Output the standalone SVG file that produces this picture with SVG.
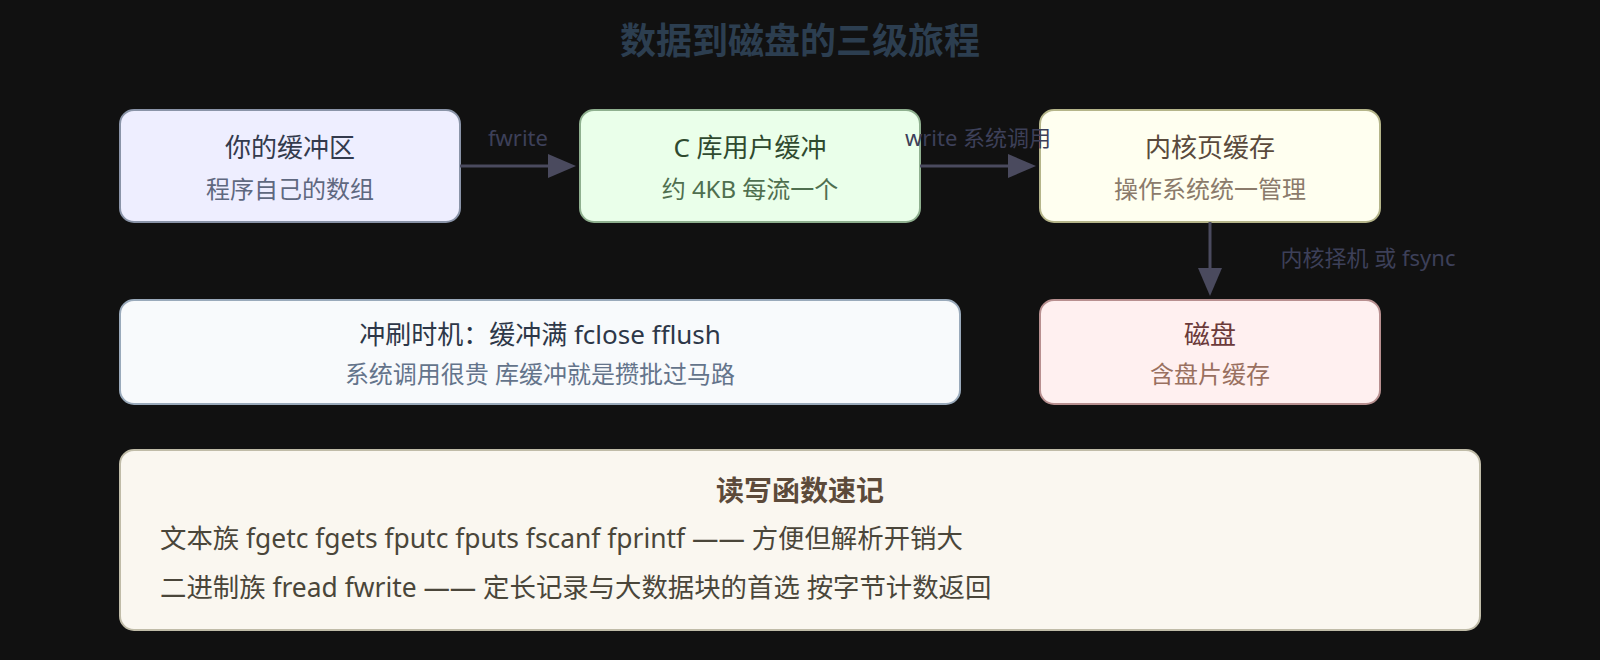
<svg xmlns="http://www.w3.org/2000/svg" width="1600" height="660" viewBox="0 0 1600 660">
  <defs>
    <style>
      text { font-family: "Noto Sans", "Noto Sans CJK SC", "Liberation Sans", sans-serif; }
      .title { font-size: 36px; font-weight: 700; fill: #2c3e50; }
      .nt { font-size: 26px; text-anchor: middle; }
      .ns { font-size: 24px; text-anchor: middle; }
      .el { font-size: 22px; fill: #3d4059; }
      .box { stroke-width: 2; }
      .edge { fill: none; stroke: #4a4a5e; stroke-width: 3; }
      .bh { font-size: 28px; font-weight: 700; fill: #5c4a3a; text-anchor: middle; }
      .bl { font-size: 26.4px; fill: #4a463a; }
    </style>
    <marker id="arr" markerUnits="userSpaceOnUse" markerWidth="30" markerHeight="24" refX="2" refY="12" orient="auto">
      <path d="M0,0 L28,12 L0,24 Z" fill="#4a4a5e"/>
    </marker>
  </defs>
  <rect x="0" y="0" width="1600" height="660" fill="#111111"/>
  <text class="title" x="800" y="54" text-anchor="middle">数据到磁盘的三级旅程</text>

  <g id="user-buffer">
    <rect class="box" x="120" y="110" width="340" height="112" rx="14" fill="#eeeeff" stroke="#8a94a8"/>
    <text class="nt" x="290" y="157" fill="#333a4d">你的缓冲区</text>
    <text class="ns" x="290" y="198" fill="#5f6880">程序自己的数组</text>
  </g>

  <g id="clib-buffer">
    <rect class="box" x="580" y="110" width="340" height="112" rx="14" fill="#eaffea" stroke="#8fb08f"/>
    <text class="nt" x="750" y="157" fill="#2f4a2f">C 库用户缓冲</text>
    <text class="ns" x="750" y="198" fill="#4f6f4f">约 4KB 每流一个</text>
  </g>

  <g id="page-cache">
    <rect class="box" x="1040" y="110" width="340" height="112" rx="14" fill="#fffff0" stroke="#b5b58a"/>
    <text class="nt" x="1210" y="157" fill="#5a4a3c">内核页缓存</text>
    <text class="ns" x="1210" y="198" fill="#8b7b6b">操作系统统一管理</text>
  </g>

  <g id="flush-note">
    <rect class="box" x="120" y="300" width="840" height="104" rx="14" fill="#f8fafc" stroke="#9aaabb"/>
    <text class="nt" x="540" y="344" fill="#2d3748">冲刷时机：缓冲满 fclose fflush</text>
    <text class="ns" x="540" y="383" fill="#64748b">系统调用很贵 库缓冲就是攒批过马路</text>
  </g>

  <g id="disk">
    <rect class="box" x="1040" y="300" width="340" height="104" rx="14" fill="#fff0f0" stroke="#b89090"/>
    <text class="nt" x="1210" y="344" fill="#6b3a3a">磁盘</text>
    <text class="ns" x="1210" y="383" fill="#9a7060">含盘片缓存</text>
  </g>

  <g id="cheatsheet">
    <rect class="box" x="120" y="450" width="1360" height="180" rx="14" fill="#faf7f0" stroke="#c0bca8"/>
    <text class="bh" x="800" y="501">读写函数速记</text>
    <text class="bl" x="160" y="548">文本族 fgetc fgets fputc fputs fscanf fprintf —— 方便但解析开销大</text>
    <text class="bl" x="160" y="597">二进制族 fread fwrite —— 定长记录与大数据块的首选 按字节计数返回</text>
  </g>

  <g id="connectors">
    <path class="edge" d="M460,166 L550,166" marker-end="url(#arr)"/>
    <path class="edge" d="M920,166 L1010,166" marker-end="url(#arr)"/>
    <path class="edge" d="M1210,222 L1210,270" marker-end="url(#arr)"/>
    <text class="el" x="518" y="146" text-anchor="middle">fwrite</text>
    <text class="el" x="978" y="146" text-anchor="middle">write 系统调用</text>
    <text class="el" x="1368" y="266" text-anchor="middle">内核择机 或 fsync</text>
  </g>
</svg>
